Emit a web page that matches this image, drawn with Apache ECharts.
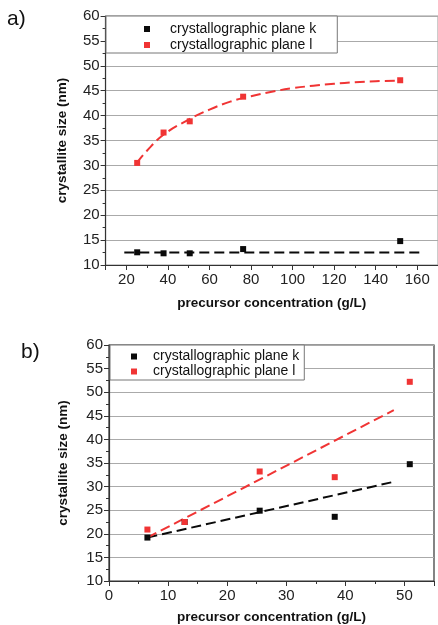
<!DOCTYPE html>
<html><head><meta charset="utf-8">
<script src="https://cdn.jsdelivr.net/npm/echarts@6/dist/echarts.min.js"></script>
<style>html,body{margin:0;padding:0;background:#fff}#c{width:438px;height:625px}</style>
</head><body><div id="c"></div>
<script>
// Panel a
const aConc = [25.2, 37.9, 50.5, 76.2, 151.8];
const aPlaneK = [12.55, 12.35, 12.35, 13.2, 14.8];
const aPlaneL = [30.5, 36.6, 38.85, 43.8, 47.1];
const aFitLx = [25, 30, 38, 50, 60, 70, 80, 90, 100, 110, 120, 130, 140, 150];
const aFitLy = [30.5, 33.0, 36.2, 39.2, 41.2, 42.8, 43.9, 44.8, 45.5, 46.0, 46.4, 46.7, 46.9, 47.0];
const aFitKx = [19, 162];
const aFitKy = [12.5, 12.5];
// Panel b
const bConc = [6.5, 12.8, 25.5, 38.2, 50.9];
const bPlaneK = [19.2, 22.5, 24.9, 23.6, 34.75];
const bPlaneL = [20.9, 22.5, 33.2, 32.0, 52.2];
const bFitLx = [6.5, 48.2];
const bFitLy = [19.2, 46.2];
const bFitKx = [6.5, 48.5];
const bFitKy = [19.2, 31.1];

const nameK = 'crystallographic plane k';
const nameL = 'crystallographic plane l';
const xTitle = 'precursor concentration (g/L)';
const yTitle = 'crystallite size (nm)';
const red = '#f03434', blk = '#0a0a0a';
const FONT = 'Liberation Sans, Arial, sans-serif';
const zip = (xs, ys) => xs.map((x, i) => [x, ys[i]]);

function yAxis(gi, gap) {
  return {
    gridIndex: gi, type: 'value', min: 10, max: 60, interval: 5,
    name: yTitle, nameLocation: 'middle', nameGap: gap,
    nameTextStyle: {fontFamily: FONT, fontSize: 13.5, fontWeight: 'bold', color: '#111'},
    axisLine: {show: true, lineStyle: {color: '#333', width: 1.2}},
    axisTick: {show: true, inside: false, length: 5, lineStyle: {color: '#333'}},
    minorTick: {show: true, splitNumber: 2, length: 3, lineStyle: {color: '#333'}},
    axisLabel: {fontFamily: FONT, fontSize: 15, color: '#222', margin: 6},
    splitLine: {show: true, lineStyle: {color: '#aaa', width: 1}}
  };
}
function xAxisBase(gi, gap) {
  return {
    gridIndex: gi, type: 'value',
    name: xTitle, nameLocation: 'middle', nameGap: gap,
    nameTextStyle: {fontFamily: FONT, fontSize: 13.5, fontWeight: 'bold', color: '#111'},
    axisLine: {show: true, onZero: false, lineStyle: {color: '#333', width: 1.2}},
    axisTick: {show: true, inside: false, length: 5, lineStyle: {color: '#333'}},
    minorTick: {show: true, splitNumber: 2, length: 3, lineStyle: {color: '#333'}},
    axisLabel: {fontFamily: FONT, fontSize: 15, color: '#222', margin: 7, showMinLabel: false, showMaxLabel: false},
    splitLine: {show: false}
  };
}
const xa = Object.assign(xAxisBase(0, 31), {min: 10, max: 170, splitNumber: 8});
xa.axisLabel.showMinLabel = false;
const xb = Object.assign(xAxisBase(1, 29), {min: 0, max: 55, interval: 10});
xb.axisLabel.showMinLabel = true;

function scatter(name, xi, data, color) {
  return {type: 'scatter', name, xAxisIndex: xi, yAxisIndex: xi, data,
    symbol: 'rect', symbolSize: 6, itemStyle: {color, opacity: 1}, z: 5};
}
function fit(xi, data, color, smooth) {
  return {type: 'line', xAxisIndex: xi, yAxisIndex: xi, data, smooth: smooth ? 0.4 : false,
    showSymbol: false, silent: true, z: 4,
    lineStyle: {color, width: 2, type: [10, 5], opacity: 1}};
}
function legend(left, top, padding, lh, extra) {
  return {
    left, top, orient: 'vertical', padding, itemGap: 0,
    icon: 'rect', itemWidth: 6, itemHeight: 6,
    backgroundColor: '#fff', borderColor: '#777', borderWidth: 1,
    data: [nameK, nameL],
    itemStyle: {opacity: 1},
    textStyle: {fontFamily: FONT, fontSize: 14, color: '#111', lineHeight: lh, padding: [0, 0, 0, extra]},
    selectedMode: false, z: 10
  };
}

const chart = echarts.init(document.getElementById('c'), null, {renderer: 'canvas'});
chart.setOption({
  animation: false,
  grid: [
    {left: 105.6, top: 16, width: 337, height: 249, show: true, borderColor: '#999', borderWidth: 1, backgroundColor: 'transparent'},
    {left: 109, top: 345, width: 325, height: 239, show: true, borderColor: '#333', borderWidth: 1.2, backgroundColor: 'transparent'}
  ],
  xAxis: [xa, xb],
  yAxis: [yAxis(0, 36), yAxis(1, 39)],
  legend: [legend(106, 16, [5, 21, 0, 38], 16, 15), legend(110, 345, [4, 5, 1, 21], 15, 11)],
  graphic: [
    {type: 'text', left: 7, top: 9, style: {text: 'a)', fontFamily: FONT, fontSize: 21, fill: '#111'}},
    {type: 'text', left: 21, top: 342, style: {text: 'b)', fontFamily: FONT, fontSize: 21, fill: '#111'}}
  ],
  series: [
    fit(0, zip(aFitKx, aFitKy), blk, false),
    fit(0, zip(aFitLx, aFitLy), red, true),
    scatter(nameK, 0, zip(aConc, aPlaneK), blk),
    scatter(nameL, 0, zip(aConc, aPlaneL), red),
    fit(1, zip(bFitKx, bFitKy), blk, false),
    fit(1, zip(bFitLx, bFitLy), red, false),
    scatter(nameK, 1, zip(bConc, bPlaneK), blk),
    scatter(nameL, 1, zip(bConc, bPlaneL), red)
  ]
});
</script></body></html>
